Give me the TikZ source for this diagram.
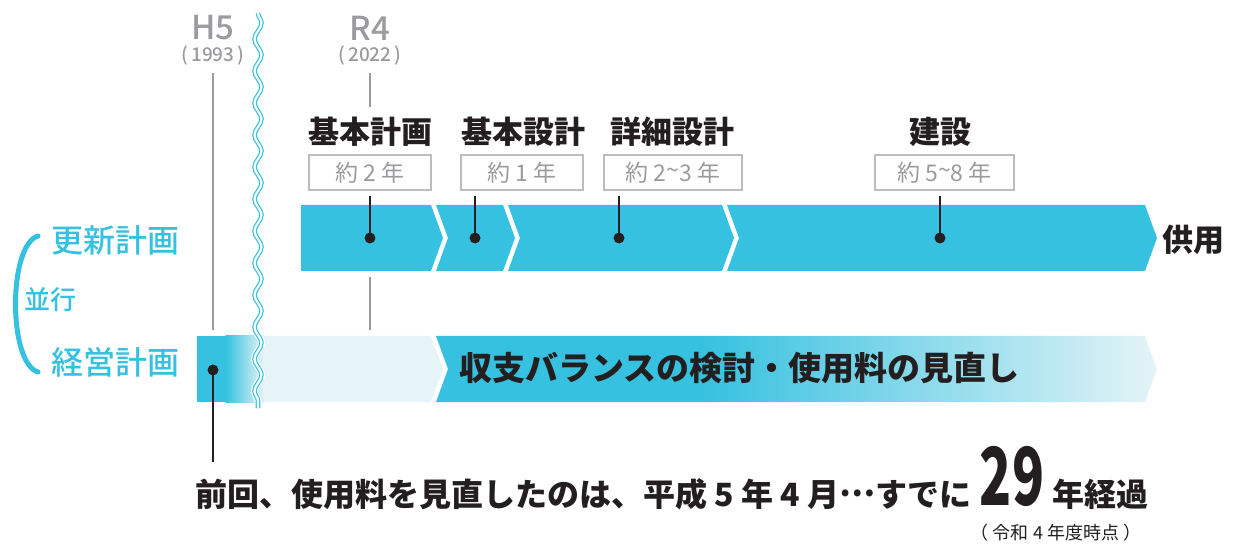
\documentclass[tikz,border=0pt]{standalone}
\usepackage{fontspec}
\setmainfont{Noto Sans CJK JP}
\newfontfamily\jpm{Noto Sans CJK JP Medium}
\usetikzlibrary{decorations.pathmorphing}
\definecolor{cy}{HTML}{35C1DF}
\definecolor{pale}{HTML}{E6F4F8}
\definecolor{gr}{HTML}{9B9B9F}
\definecolor{boxgr}{HTML}{BDBDBF}
\definecolor{dk}{HTML}{231F20}
\begin{document}
\begin{tikzpicture}[x=1pt,y=-1pt,
  title/.style={font=\fontsize{31}{33}\selectfont\bfseries, text=dk, inner sep=0},
  durbox/.style={draw=boxgr, line width=1.3, font=\fontsize{23}{26}\selectfont, text=gr, minimum height=35, inner sep=0},
  era/.style={font=\jpm\fontsize{33}{35}\selectfont, text=gr, inner sep=0},
  year/.style={font=\jpm\fontsize{19}{21}\selectfont, text=gr, inner sep=0},
  plan/.style={font=\jpm\fontsize{32}{34}\selectfont, text=cy, inner sep=0},
  dot/.style={circle, fill=dk, inner sep=0, minimum size=11},
  tick/.style={draw=dk, line width=2.6},
  gline/.style={draw=gr, line width=2.6},
  big/.style={font=\fontsize{32}{34}\selectfont\bfseries, text=dk, inner sep=0}
]
\useasboundingbox (0,0) rectangle (1240,545);

% upper bar segments
\fill[cy] (301,205) -- (431,205) -- (443,238) -- (431,271) -- (301,271) -- cycle;
\fill[cy] (436,205) -- (503,205) -- (515,238) -- (503,271) -- (436,271) -- (448,238) -- cycle;
\fill[cy] (508,205) -- (722,205) -- (734,238) -- (722,271) -- (508,271) -- (520,238) -- cycle;
\fill[cy] (727,205) -- (1145,205) -- (1157,238) -- (1145,271) -- (727,271) -- (739,238) -- cycle;

% lower bar
\fill[pale] (197,336) -- (431,336) -- (443,369) -- (431,402) -- (197,402) -- cycle;
\fill[cy] (197,336) rectangle (226,402);
\shade[left color=cy, right color=pale] (225.5,336) rectangle (264,402);
\begin{scope}
  \clip (436,336) -- (1145,336) -- (1157,369) -- (1145,402) -- (436,402) -- (448,369) -- cycle;
  \fill[cy] (430,330) rectangle (700,410);
  \shade[left color=cy, right color=pale] (699.5,330) rectangle (1160,410);
\end{scope}

% era markers
\node[era] (h5) at (213,28) {H5};
\node[year] (h5y) at (213,56) {(\,1993\,)};
\node[era] (r4) at (370,28) {R4};
\node[year] (r4y) at (370,56) {(\,2022\,)};
\coordinate (h5a) at (213,73);
\coordinate (h5b) at (213,330);
\draw[gline] (h5a) -- (h5b);
\coordinate (r4a) at (370,73);
\coordinate (r4b) at (370,107);
\coordinate (r4c) at (370,277);
\coordinate (r4d) at (370,330);
\draw[gline] (r4a) -- (r4b);
\draw[gline] (r4c) -- (r4d);

% wavy break
\coordinate (wa) at (258,13);
\coordinate (wb) at (258,408);
\draw[white, line width=7, decorate, decoration={snake, amplitude=3.5, segment length=32}] (wa) -- (wb);
\draw[cy, line width=4.6, decorate, decoration={snake, amplitude=3.5, segment length=32}] (wa) -- (wb);
\draw[white, line width=2.2, decorate, decoration={snake, amplitude=3.5, segment length=32}] (wa) -- (wb);

% titles
\node[title] (t1) at (370,132) {基本計画};
\node[title] (t2) at (523,132) {基本設計};
\node[title] (t3) at (672,132) {詳細設計};
\node[title] (t4) at (940,132) {建設};

% duration boxes
\node[durbox, minimum width=122] (b1) at (370,172.5) {約 2 年};
\node[durbox, minimum width=122] (b2) at (522,172.5) {約 1 年};
\node[durbox, minimum width=138] (b3) at (673,172.5) {約 2\raisebox{0.1em}{\~{}}3 年};
\node[durbox, minimum width=139] (b4) at (944.5,172.5) {約 5\raisebox{0.1em}{\~{}}8 年};

% dots and ticks
\node[dot] (d1) at (370,238) {};
\node[dot] (d2) at (475,238) {};
\node[dot] (d3) at (619,238) {};
\node[dot] (d4) at (940,238) {};
\coordinate (s1) at (370,196);
\coordinate (s2) at (475,196);
\coordinate (s3) at (619,196);
\coordinate (s4) at (940,196);
\draw[tick] (s1) -- (d1.center);
\draw[tick] (s2) -- (d2.center);
\draw[tick] (s3) -- (d3.center);
\draw[tick] (s4) -- (d4.center);

\node[dot] (d0) at (213,370) {};
\coordinate (s0) at (213,462);
\draw[tick] (d0.center) -- (s0);

% end label
\node[big, font=\fontsize{31}{33}\selectfont\bfseries, anchor=west] (kyo) at (1162,240) {供用};

% left labels
\node[plan] (p1) at (115,240) {更新計画};
\node[plan] (p2) at (115,362) {経営計画};
\node[font=\jpm\fontsize{26}{28}\selectfont, text=cy, inner sep=0] (p3) at (50,300) {並行};
\coordinate (ba) at (38,236);
\coordinate (bb) at (38,372);
\draw[cy, line width=5, line cap=round] (ba) .. controls (8,245) and (8,363) .. (bb);

% lower bar text
\node[big, font=\fontsize{33}{35}\selectfont\bfseries, anchor=west] (kei) at (459,368) {収支バランスの検討・使用料の見直し};

% bottom statement
\node[big, anchor=west] (st) at (195,494) {前回、使用料を見直したのは、平成 5 年 4 月\raisebox{0.3em}{…}すでに};
\node[font=\fontsize{80}{80}\selectfont\bfseries, text=dk, inner sep=0, text depth=0pt, text height=58pt, xscale=0.66] (n29) at (1012,476) {29};
\node[big, anchor=west] (yr) at (1052,494) {年経過};
\node[font=\fontsize{18}{20}\selectfont, text=dk, inner sep=0] (note) at (1056,533) {（ 令和 4 年度時点 ）};
\end{tikzpicture}
\end{document}
